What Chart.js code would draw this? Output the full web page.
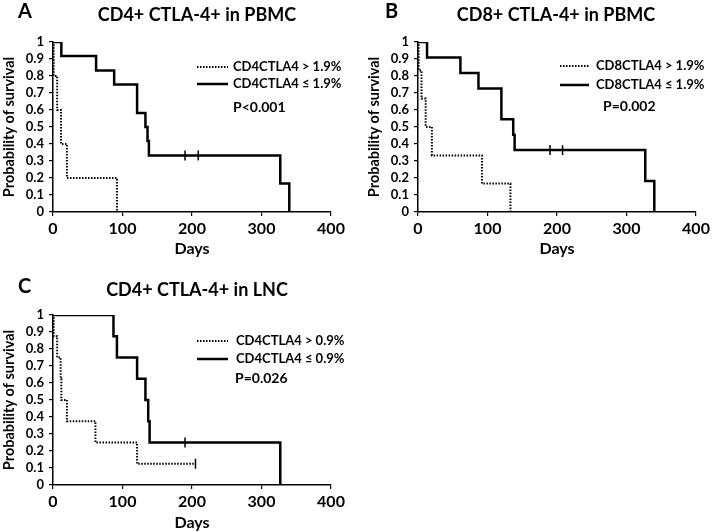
<!DOCTYPE html>
<html lang="en">
<head>
    <meta charset="UTF-8">
    <title>CTLA-4 survival curves</title>
    <style>
        body { margin: 0; background: #fff; width: 716px; height: 532px; overflow: hidden; position: relative; }
        canvas { display: block; position: absolute; }
        #chartA { left: 0; top: 0; }
        #chartB { left: 365px; top: 0; }
        #chartC { left: 0; top: 273px; }
    </style>
</head>
<body>

<script src="https://cdn.jsdelivr.net/npm/chart.js@4"></script>
<canvas id="chartA" width="358" height="262"></canvas>
<canvas id="chartB" width="351" height="262"></canvas>
<canvas id="chartC" width="358" height="259"></canvas>

<script>
// panel A: CD4+ CTLA-4+ in PBMC
const aLowDays  = [0, 12, 62, 88, 121, 133, 136, 138, 327, 340];
const aLowSurv  = [1, 0.917, 0.833, 0.75, 0.583, 0.5, 0.417, 0.333, 0.167, 0];
const aLowCens  = [190, 209];
const aLowCensSurv = 0.333;
const aHighDays = [0, 1, 6, 11.5, 20, 92];
const aHighSurv = [1, 0.8, 0.6, 0.4, 0.2, 0];

// panel B: CD8+ CTLA-4+ in PBMC
const bLowDays  = [0, 13, 61, 87, 120, 137, 139, 327, 340];
const bLowSurv  = [1, 0.909, 0.818, 0.727, 0.545, 0.455, 0.364, 0.182, 0];
const bLowCens  = [190, 208];
const bLowCensSurv = 0.364;
const bHighDays = [0, 1, 5, 11, 20, 92, 133];
const bHighSurv = [1, 0.833, 0.667, 0.5, 0.333, 0.167, 0];

// panel C: CD4+ CTLA-4+ in LNC
const cLowDays  = [0, 87, 92, 121, 133, 137, 139, 327];
const cLowSurv  = [1, 0.875, 0.75, 0.625, 0.5, 0.375, 0.25, 0];
const cLowCens  = [190];
const cLowCensSurv = 0.25;
const cHighDays = [0, 1, 6, 11, 12, 20, 61, 121, 205];
const cHighSurv = [1, 0.875, 0.75, 0.625, 0.5, 0.375, 0.25, 0.125, 0.125];
const cHighCens = [205];
const cHighCensSurv = 0.125;

const panelLetters = ['A', 'B', 'C'];
const panelTitles  = ['CD4+ CTLA-4+ in PBMC', 'CD8+ CTLA-4+ in PBMC', 'CD4+ CTLA-4+ in LNC'];
const highLabels   = ['CD4CTLA4 > 1.9%', 'CD8CTLA4 > 1.9%', 'CD4CTLA4 > 0.9%'];
const lowLabels    = ['CD4CTLA4 \u2264 1.9%', 'CD8CTLA4 \u2264 1.9%', 'CD4CTLA4 \u2264 0.9%'];
const pValues      = ['P<0.001', 'P=0.002', 'P=0.026'];

const xTicks = [0, 100, 200, 300, 400];
const yTicks = [0, 0.1, 0.2, 0.3, 0.4, 0.5, 0.6, 0.7, 0.8, 0.9, 1];

const FONT = 'Lato, "Open Sans", sans-serif';

function pts(xs, ys) {
    return xs.map((x, i) => ({ x: x, y: ys[i] }));
}
function censPts(xs, y) {
    return xs.map(x => ({ x: x, y: y }));
}

// draws the panel letter, title, in-plot legend and p value
const panelText = {
    id: 'panelText',
    afterDraw(chart, args, opts) {
        const ctx = chart.ctx;
        ctx.save();
        ctx.fillStyle = '#000';
        ctx.textBaseline = 'middle';

        ctx.font = 'bold 20px ' + FONT;
        ctx.textAlign = 'left';
        ctx.fillText(opts.letter, opts.letterX, opts.letterY);

        ctx.font = 'bold 18px ' + FONT;
        ctx.textAlign = 'center';
        ctx.fillText(opts.title, opts.titleX, opts.titleY);

        ctx.font = 'bold 13px ' + FONT;
        ctx.textAlign = 'left';
        const lines = chart.data.datasets.filter(d => d.label);
        lines.forEach((d, i) => {
            const y = opts.rows[i];
            ctx.beginPath();
            ctx.strokeStyle = d.borderColor;
            ctx.lineWidth = d.borderWidth;
            ctx.setLineDash(d.borderDash || []);
            ctx.moveTo(opts.sampleX0, y);
            ctx.lineTo(opts.sampleX1, y);
            ctx.stroke();
            ctx.fillText(d.label, opts.textX, y);
        });
        ctx.setLineDash([]);
        ctx.font = 'bold 14px ' + FONT;
        ctx.fillText(opts.p, opts.pX, opts.pY);
        ctx.restore();
    }
};

function makeChart(id, idx, high, low, cens, layout) {
    const datasets = [
        { label: highLabels[idx], data: high, borderColor: '#000', borderWidth: 2, borderDash: [1.5, 1.5],
          showLine: true, stepped: true, pointRadius: 0, fill: false },
        { label: lowLabels[idx], data: low, borderColor: '#000', borderWidth: 2.5,
          showLine: true, stepped: true, pointRadius: 0, fill: false }
    ];
    cens.forEach(c => datasets.push({
        data: c, showLine: false, pointStyle: 'line', rotation: 90, pointRadius: 5,
        borderColor: '#000', borderWidth: 1.5, backgroundColor: '#000'
    }));

    return new Chart(document.getElementById(id), {
        type: 'scatter',
        data: { datasets: datasets },
        plugins: [panelText],
        options: {
            responsive: false,
            animation: false,
            layout: { padding: { left: 0, top: 42, right: layout.padRight, bottom: 0 } },
            plugins: {
                legend: { display: false },
                tooltip: { enabled: false },
                panelText: Object.assign({
                    letter: panelLetters[idx], title: panelTitles[idx], p: pValues[idx]
                }, layout)
            },
            scales: {
                x: {
                    type: 'linear', min: 0, max: 400,
                    afterBuildTicks: s => { s.ticks = xTicks.map(v => ({ value: v })); },
                    afterFit: s => { s.height = layout.xHeight; },
                    grid: { drawOnChartArea: false, color: '#000', tickLength: 4, lineWidth: 1.2 },
                    border: { color: '#000', width: 1.5 },
                    ticks: { color: '#000', padding: 3, autoSkip: false, maxRotation: 0,
                             font: { family: FONT, size: 16, weight: 'bold' } },
                    title: { display: true, text: 'Days', color: '#000', padding: { top: 0, bottom: layout.daysPad },
                             font: { family: FONT, size: 16, weight: 'bold' } }
                },
                y: {
                    min: 0, max: 1,
                    afterBuildTicks: s => { s.ticks = yTicks.map(v => ({ value: v })); },
                    afterFit: s => { s.width = 53; },
                    grid: { drawOnChartArea: false, color: '#000', tickLength: 4, lineWidth: 1.2 },
                    border: { color: '#000', width: 1.5 },
                    ticks: { color: '#000', padding: 5, autoSkip: false,
                             font: { family: FONT, size: 13, weight: 'bold' },
                             callback: v => String(Math.round(v * 10) / 10) },
                    title: { display: true, text: 'Probability of survival', color: '#000', padding: { top: 1, bottom: 0 },
                             font: { family: FONT, size: 14.5, weight: 'bold' } }
                }
            }
        }
    });
}

makeChart('chartA', 0, pts(aHighDays, aHighSurv), pts(aLowDays, aLowSurv),
    [censPts(aLowCens, aLowCensSurv)],
    { padRight: 27, xHeight: 50, daysPad: 4, letterX: 18, letterY: 12, titleX: 197, titleY: 15,
      sampleX0: 197, sampleX1: 228, textX: 233, rows: [67, 84], pX: 233, pY: 107 });

makeChart('chartB', 1, pts(bHighDays, bHighSurv), pts(bLowDays, bLowSurv),
    [censPts(bLowCens, bLowCensSurv)],
    { padRight: 20, xHeight: 50, daysPad: 4, letterX: 20, letterY: 12, titleX: 191, titleY: 15,
      sampleX0: 195, sampleX1: 224, textX: 231, rows: [66, 85], pX: 238, pY: 106 });

makeChart('chartC', 2, pts(cHighDays, cHighSurv), pts(cLowDays, cLowSurv),
    [censPts(cLowCens, cLowCensSurv), censPts(cHighCens, cHighCensSurv)],
    { padRight: 27, xHeight: 47, daysPad: 0, letterX: 18, letterY: 14, titleX: 197, titleY: 17,
      sampleX0: 197, sampleX1: 228, textX: 236, rows: [68, 86], pX: 235, pY: 105 });
</script>
</body>
</html>
